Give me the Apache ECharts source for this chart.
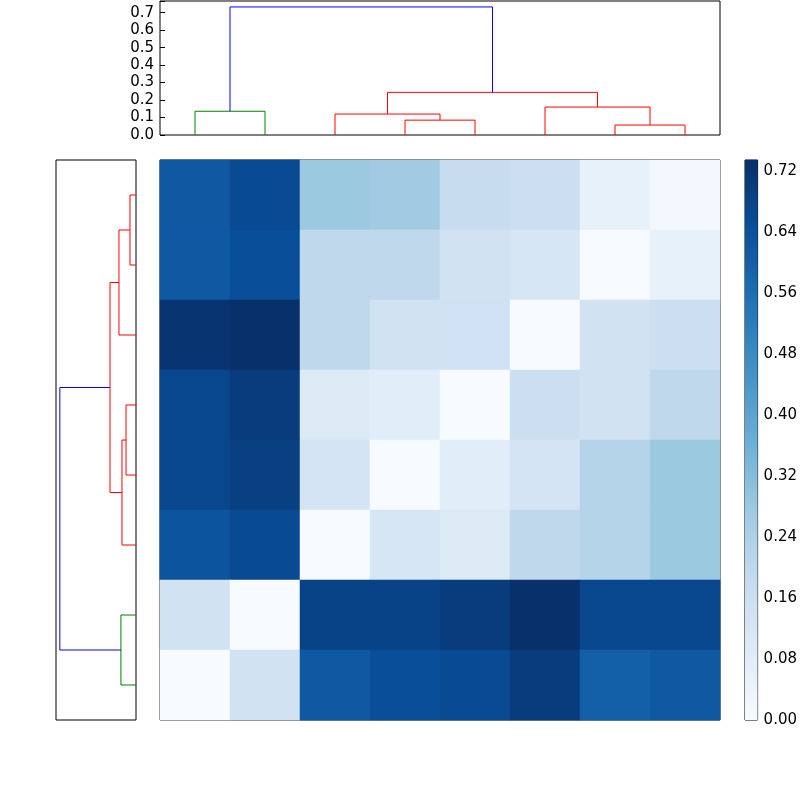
<!DOCTYPE html>
<html><head><meta charset="utf-8">
<script src="https://cdn.jsdelivr.net/npm/echarts@6/dist/echarts.min.js"></script>
<style>html,body{margin:0;background:#fff}#c{width:800px;height:800px}</style>
</head><body><div id="c"></div>
<script>
// heatmap values, row 0 = top row
const matrix = [
  [0.62,0.66,0.28,0.27,0.18,0.16,0.06,0.02],
  [0.62,0.65,0.20,0.20,0.14,0.12,0.00,0.06],
  [0.72,0.734,0.20,0.14,0.15,0.00,0.14,0.16],
  [0.67,0.70,0.10,0.08,0.00,0.16,0.14,0.20],
  [0.67,0.69,0.13,0.00,0.08,0.13,0.22,0.28],
  [0.63,0.66,0.00,0.12,0.10,0.20,0.22,0.28],
  [0.14,0.00,0.68,0.68,0.70,0.734,0.67,0.67],
  [0.00,0.14,0.62,0.65,0.66,0.70,0.60,0.62]
];
// dendrogram links: [pos1, pos2, bottom1, bottom2, height, color]
const topLinks = [
  [0.5,1.5,0,0,0.136,'green'],
  [3.5,4.5,0,0,0.085,'red'],
  [2.5,4.0,0,0.085,0.12,'red'],
  [6.5,7.5,0,0,0.057,'red'],
  [5.5,7.0,0,0.057,0.16,'red'],
  [3.25,6.25,0.12,0.16,0.244,'red'],
  [1.0,4.75,0.136,0.244,0.733,'blue']
];
const leftLinks = [
  [0.5,1.5,0,0,0.058,'red'],
  [1.0,2.5,0.058,0,0.164,'red'],
  [3.5,4.5,0,0,0.096,'red'],
  [4.0,5.5,0.096,0,0.135,'red'],
  [1.75,4.75,0.164,0.135,0.25,'red'],
  [6.5,7.5,0,0,0.145,'green'],
  [3.25,7.0,0.25,0.145,0.733,'blue']
];
const topTicks = [0,0.1,0.2,0.3,0.4,0.5,0.6,0.7];
const cbMax = 0.734;
const blues = ['#f7fbff','#deebf7','#c6dbef','#9ecae1','#6baed6','#4292c6','#2171b5','#08519c','#08306b'];

const heatData = [];
matrix.forEach((r,i)=>r.forEach((v,j)=>heatData.push([j,i,v])));
const font = {fontFamily:'DejaVu Sans',fontSize:15,color:'#000'};
const series = [];
topLinks.forEach(l=>series.push({type:'line',xAxisIndex:0,yAxisIndex:0,symbol:'none',silent:true,
  lineStyle:{color:l[5],width:1},data:[[l[0],l[2]],[l[0],l[4]],[l[1],l[4]],[l[1],l[3]]]}));
leftLinks.forEach(l=>series.push({type:'line',xAxisIndex:1,yAxisIndex:1,symbol:'none',silent:true,
  lineStyle:{color:l[5],width:1},data:[[l[2],l[0]],[l[4],l[0]],[l[4],l[1]],[l[3],l[1]]]}));
series.push({type:'heatmap',xAxisIndex:2,yAxisIndex:2,data:heatData,silent:true});
series.push({type:'bar',xAxisIndex:3,yAxisIndex:3,data:[cbMax],barWidth:'100%',silent:true,
  itemStyle:{color:new echarts.graphic.LinearGradient(0,1,0,0,blues.map((c,i)=>({offset:i/8,color:c})))}});
const box = {show:true,borderColor:'#000',borderWidth:1,backgroundColor:'#fff'};
const none = {axisLine:{show:false},axisTick:{show:false},axisLabel:{show:false},splitLine:{show:false}};
const opt = {
  animation:false,
  grid:[
    Object.assign({left:160,top:1,width:560,height:134},box),
    Object.assign({left:56,top:160,width:80,height:560},box),
    Object.assign({left:160,top:160,width:560,height:560},box),
    Object.assign({left:745,top:160,width:15,height:560},box)
  ],
  xAxis:[
    Object.assign({type:'value',gridIndex:0,min:0,max:8},none),
    Object.assign({type:'value',gridIndex:1,min:0,max:0.77,inverse:true},none),
    Object.assign({type:'category',gridIndex:2,data:[0,1,2,3,4,5,6,7]},none),
    Object.assign({type:'category',gridIndex:3,data:['']},none)
  ],
  yAxis:[
    {type:'value',gridIndex:0,min:0,max:0.767,interval:0.1,axisLine:{show:false},
     axisTick:{inside:true,length:5,lineStyle:{color:'#000'}},splitLine:{show:false},
     axisLabel:Object.assign({formatter:v=>topTicks.includes(Math.round(v*10)/10)?v.toFixed(1):'',margin:6},font)},
    Object.assign({type:'value',gridIndex:1,min:0,max:8,inverse:true},none),
    Object.assign({type:'category',gridIndex:2,inverse:true,data:[0,1,2,3,4,5,6,7]},none),
    {type:'value',gridIndex:3,position:'right',min:0,max:cbMax,interval:0.08,axisLine:{show:false},
     axisTick:{inside:true,length:4,lineStyle:{color:'#000'}},splitLine:{show:false},
     axisLabel:Object.assign({formatter:v=>v.toFixed(2),margin:6},font)}
  ],
  visualMap:{show:false,min:0,max:cbMax,seriesIndex:series.length-2,inRange:{color:blues}},
  series
};
echarts.init(document.getElementById('c')).setOption(opt);
</script></body></html>
